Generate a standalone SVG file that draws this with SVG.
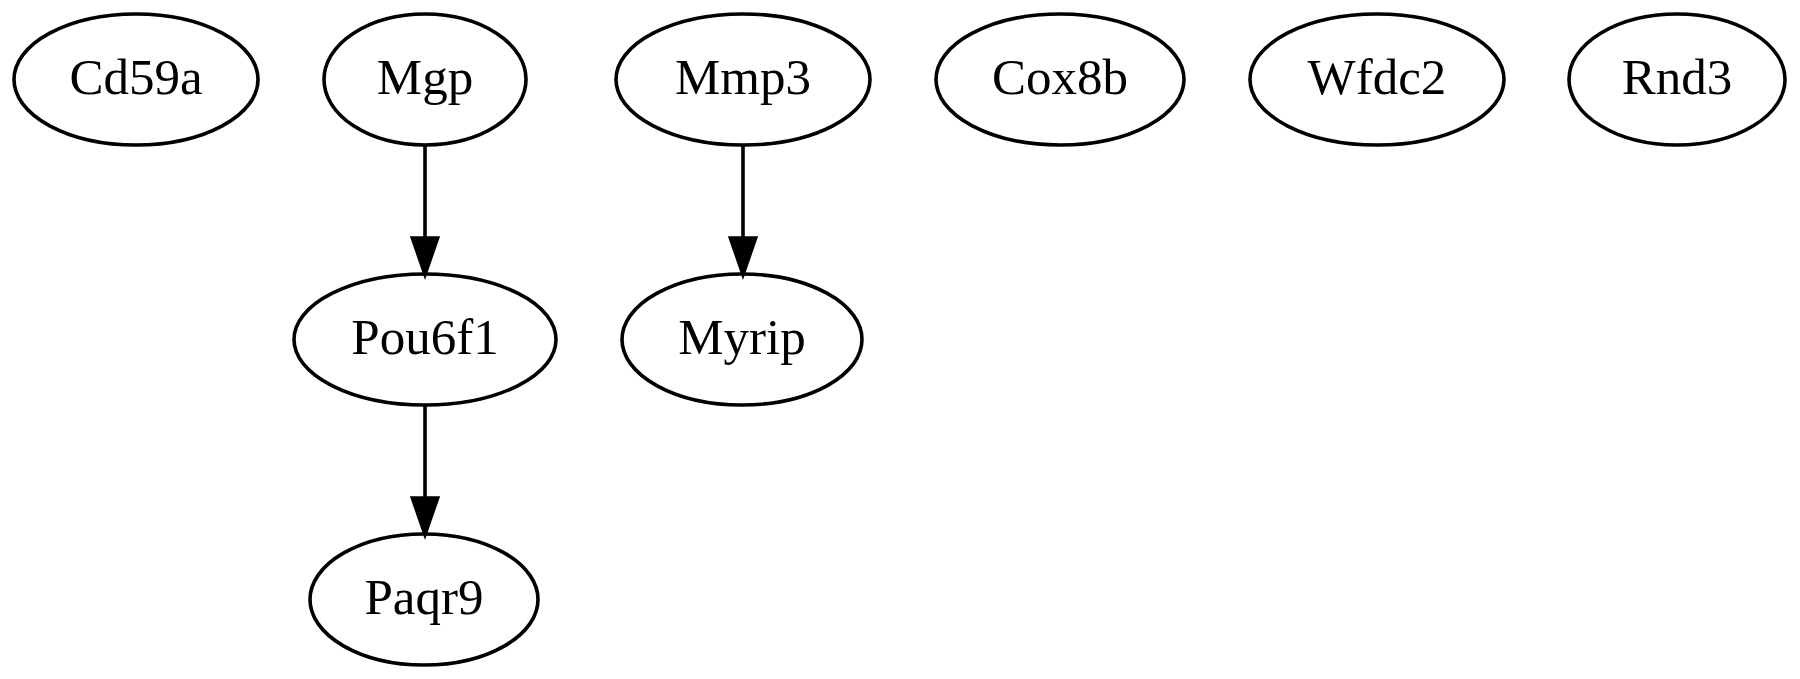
<svg xmlns="http://www.w3.org/2000/svg" width="1800" height="679" viewBox="0 0 1800 679">
<style>
.n ellipse{fill:none;stroke:#000;stroke-width:3.6}
.n text{font-family:"Liberation Serif","Times New Roman",serif;font-size:51px;text-anchor:middle;fill:#000}
.e line{stroke:#000;stroke-width:3.6}
.e polygon{fill:#000;stroke:#000;stroke-width:3.6}
</style>
<rect width="1800" height="679" fill="#fff"/>
<g id="connectors" class="e">
<g id="e_Mgp_Pou6f1"><line x1="425" y1="144.5" x2="425" y2="238"/><polygon points="412.4,238 437.6,238 425,274.5"/></g>
<g id="e_Mmp3_Myrip"><line x1="743" y1="144.5" x2="743" y2="238"/><polygon points="730.4,238 755.6,238 743,274.5"/></g>
<g id="e_Pou6f1_Paqr9"><line x1="425" y1="404.5" x2="425" y2="498"/><polygon points="412.4,498 437.6,498 425,534.5"/></g>
</g>
<g id="Cd59a" class="n"><ellipse cx="136" cy="79.5" rx="122" ry="65.5"/><text x="136" y="94">Cd59a</text></g>
<g id="Mgp" class="n"><ellipse cx="425" cy="79.5" rx="101" ry="65.5"/><text x="425" y="94">Mgp</text></g>
<g id="Mmp3" class="n"><ellipse cx="743" cy="79.5" rx="127" ry="65.5"/><text x="743" y="94">Mmp3</text></g>
<g id="Cox8b" class="n"><ellipse cx="1060" cy="79.5" rx="124" ry="65.5"/><text x="1060" y="94">Cox8b</text></g>
<g id="Wfdc2" class="n"><ellipse cx="1377" cy="79.5" rx="127" ry="65.5"/><text x="1377" y="94">Wfdc2</text></g>
<g id="Rnd3" class="n"><ellipse cx="1677" cy="79.5" rx="108" ry="65.5"/><text x="1677" y="94">Rnd3</text></g>
<g id="Pou6f1" class="n"><ellipse cx="425" cy="339.5" rx="131" ry="65.5"/><text x="425" y="354">Pou6f1</text></g>
<g id="Myrip" class="n"><ellipse cx="742" cy="339.5" rx="120" ry="65.5"/><text x="742" y="354">Myrip</text></g>
<g id="Paqr9" class="n"><ellipse cx="424" cy="599.5" rx="114" ry="65.5"/><text x="424" y="614">Paqr9</text></g>
</svg>
